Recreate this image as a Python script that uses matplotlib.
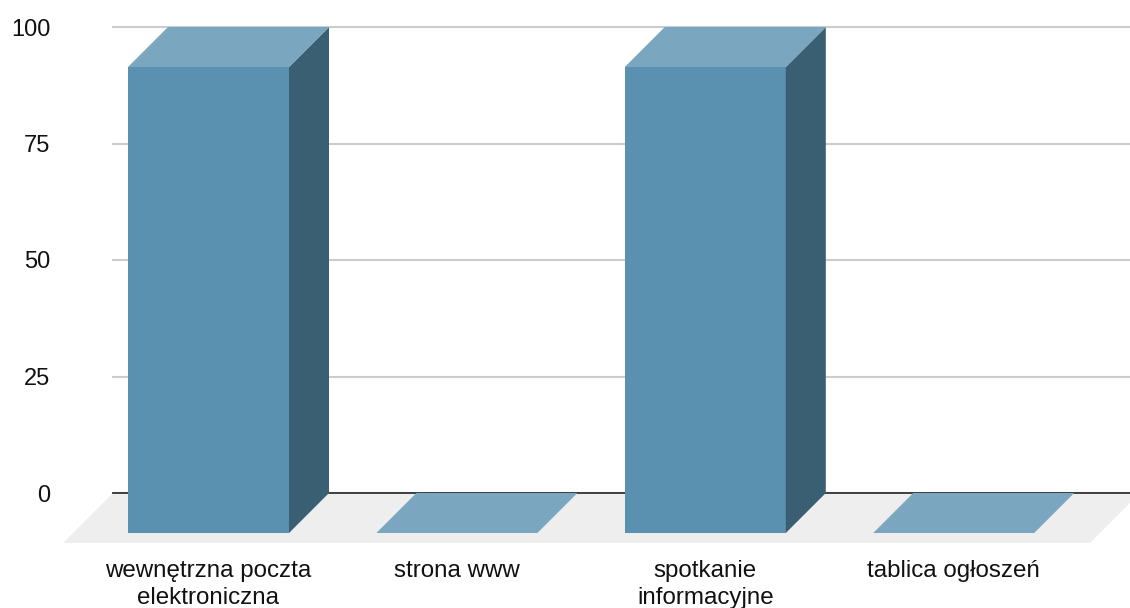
import matplotlib
matplotlib.use('Agg')
import matplotlib.pyplot as plt
from matplotlib.patches import Polygon

# Donnees du graphique
categories = ['wewnętrzna poczta\nelektroniczna', 'strona www', 'spotkanie\ninformacyjne', 'tablica ogłoszeń']
valeurs = [100, 0, 100, 0]
graduations = [0, 25, 50, 75, 100]

plt.rcParams['font.family'] = ['Liberation Sans', 'DejaVu Sans']

# Echelle en pixels de la figure
W, H = 1130, 608
PAS = 248.4   # pixels par categorie
PY = 4.66     # pixels par unite de y
prof_x = 40 / PAS   # profondeur des barres
prof_y = 40 / PY
sol_x = 50 / PAS    # profondeur du sol
sol_y = 50 / PY
largeur = 161 / PAS

xmin = (113 - 208.5) / PAS
xmax = (1130 - 208.5) / PAS

fig = plt.figure(figsize=(W / 100, H / 100), dpi=100)
ax = fig.add_axes([113 / W, (H - 493) / H, 1017 / W, 466 / H])
ax.set_xlim(xmin, xmax)
ax.set_ylim(0, 100)

for s in ['top', 'right', 'left']:
    ax.spines[s].set_visible(False)
ax.spines['bottom'].set_color('#333333')
ax.spines['bottom'].set_linewidth(1.3)
ax.spines['bottom'].set_zorder(1.5)

ax.set_yticks(graduations)
ax.yaxis.grid(True, color='#cccccc', linewidth=1.5, zorder=0, clip_on=False)
ax.set_axisbelow(True)
ax.tick_params(axis='y', length=0, pad=45, labelsize=17, labelcolor='#111111')
ax.set_xticks(range(len(categories)))
ax.set_xticklabels(categories, linespacing=1.32)
ax.tick_params(axis='x', length=0, pad=48, labelsize=17.4, labelcolor='#111111')

# Le sol en perspective
x_sol = [xmin, xmax + 0.04, xmax + 0.04 - sol_x, xmin - sol_x]
ax.add_patch(Polygon(list(zip(x_sol, [0, 0, -sol_y, -sol_y])), closed=True,
                     facecolor='#eeeeee', edgecolor='none', clip_on=False, zorder=1))

# Les barres 3D : face avant, dessus et cote
for i, v in enumerate(valeurs):
    g = i - largeur / 2
    d = i + largeur / 2
    haut = v - prof_y
    if v > 0:
        ax.bar(i, v, bottom=-prof_y, width=largeur, color='#5a91b0', clip_on=False, zorder=3)
        cote = [(d, -prof_y), (d + prof_x, 0), (d + prof_x, v), (d, haut)]
        ax.add_patch(Polygon(cote, closed=True, facecolor='#3a5f72', edgecolor='none',
                             clip_on=False, zorder=3))
    dessus = [(g, haut), (d, haut), (d + prof_x, v), (g + prof_x, v)]
    ax.add_patch(Polygon(dessus, closed=True, facecolor='#7aa7bf', edgecolor='none',
                         clip_on=False, zorder=3))

fig.savefig('out.png', dpi=100)
